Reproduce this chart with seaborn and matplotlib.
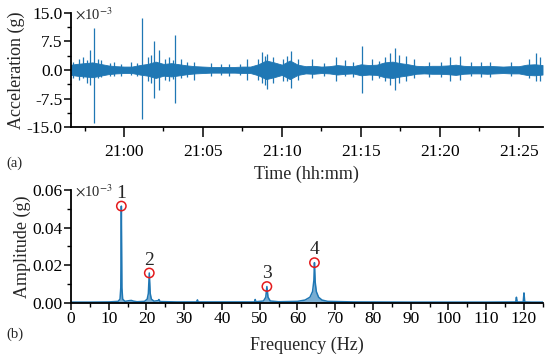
import pandas as pd
import numpy as np
import seaborn as sns
import matplotlib.pyplot as plt
from matplotlib.ticker import MultipleLocator, FormatStrFormatter

sns.set_theme(style="ticks")
plt.rcParams['font.family'] = ['Liberation Serif', 'DejaVu Serif']
plt.rcParams['mathtext.fontset'] = 'stix'

BLUE = "#1f77b4"

# ---------------- (a) acceleration record, values in 1e-3 g ----------------
# background band of the signal (read every 30 s)
env_time = ["20:56:30", "20:57:00", "20:57:30", "20:58:00", "20:58:30", "20:59:00", "20:59:30",
            "21:00:00", "21:00:30", "21:01:00", "21:01:30", "21:02:00", "21:02:30", "21:03:00",
            "21:03:30", "21:04:00", "21:04:30", "21:05:00", "21:05:30", "21:06:00", "21:06:30",
            "21:07:00", "21:07:30", "21:08:00", "21:08:30", "21:09:00", "21:09:30", "21:10:00",
            "21:10:30", "21:11:00", "21:11:30", "21:12:00", "21:12:30", "21:13:00", "21:13:30",
            "21:14:00", "21:14:30", "21:15:00", "21:15:30", "21:16:00", "21:16:30", "21:17:00",
            "21:17:30", "21:18:00", "21:18:30", "21:19:00", "21:19:30", "21:20:00", "21:20:30",
            "21:21:00", "21:21:30", "21:22:00", "21:22:30", "21:23:00", "21:23:30", "21:24:00",
            "21:24:30", "21:25:00", "21:25:30", "21:26:00", "21:26:30"]
env_hi = [1.3, 1.6, 1.8, 2.0, 1.6, 1.2, 1.0, 0.9, 0.9, 1.3, 1.6, 2.2, 1.6, 1.8, 1.5, 1.2,
          1.0, 0.9, 0.8, 0.8, 0.8, 0.8, 0.9, 0.9, 1.5, 2.5, 2.0, 1.4, 2.5, 1.4, 1.0, 1.1,
          0.9, 1.0, 1.3, 1.1, 1.0, 1.5, 1.3, 1.4, 2.0, 2.2, 1.8, 1.5, 1.1, 1.0, 1.1, 1.1,
          1.2, 1.4, 1.1, 1.0, 1.0, 1.1, 1.0, 0.9, 1.0, 1.0, 1.4, 1.5, 1.3]
env_lo = [-1.2, -1.5, -1.7, -1.9, -1.5, -1.1, -0.9, -0.8, -0.8, -1.2, -1.5, -2.1, -1.5, -1.7,
          -1.4, -1.1, -0.9, -0.8, -0.7, -0.7, -0.7, -0.7, -0.8, -0.8, -1.4, -2.4, -1.9, -1.3,
          -2.4, -1.3, -0.9, -1.0, -0.8, -0.9, -1.2, -1.0, -0.9, -1.4, -1.2, -1.3, -1.9, -2.1,
          -1.7, -1.4, -1.0, -0.9, -1.0, -1.0, -1.1, -1.3, -1.0, -0.9, -0.9, -1.0, -0.9, -0.8,
          -0.9, -0.9, -1.3, -1.4, -1.2]

# individual bursts / spikes
spike_time = ["20:56:45", "20:57:10", "20:57:25", "20:57:40", "20:57:52", "20:58:06", "20:58:20",
              "20:58:32", "20:59:05", "20:59:22", "20:59:50", "21:00:26", "21:00:50", "21:01:08",
              "21:01:30", "21:01:42", "21:01:54", "21:02:13", "21:02:35", "21:02:52", "21:03:05",
              "21:03:14", "21:03:35", "21:04:00", "21:04:26", "21:05:30", "21:06:10", "21:06:40",
              "21:07:20", "21:07:48", "21:08:30", "21:08:45", "21:08:55", "21:09:05", "21:09:25",
              "21:10:05", "21:10:18", "21:10:35", "21:11:00", "21:11:54", "21:12:40", "21:13:27",
              "21:14:00", "21:14:30", "21:15:06", "21:15:42", "21:16:10", "21:16:30", "21:16:50",
              "21:17:10", "21:17:25", "21:17:50", "21:18:20", "21:19:20", "21:20:05", "21:20:40",
              "21:21:18", "21:22:00", "21:22:35", "21:23:10", "21:24:30", "21:25:40", "21:26:05",
              "21:26:20"]
spike_hi = [2.2, 3.0, 3.4, 2.5, 5.3, 11.0, 3.0, 2.6, 1.8, 2.0, 1.6, 2.0, 1.8, 13.7, 3.5, 4.0,
            7.6, 5.3, 3.0, 3.4, 2.6, 9.2, 3.0, 2.0, 2.0, 1.8, 1.5, 1.6, 1.5, 3.0, 3.0, 4.8,
            3.6, 4.2, 3.5, 3.0, 3.8, 4.9, 2.8, 3.0, 1.8, 3.4, 2.5, 2.0, 6.3, 3.0, 2.4, 3.5,
            4.5, 5.8, 4.0, 3.6, 2.8, 2.2, 2.0, 3.4, 3.8, 2.0, 2.2, 2.0, 2.0, 3.0, 4.4, 3.5]
spike_lo = [-2.0, -2.6, -2.0, -3.5, -4.0, -14.0, -2.0, -1.8, -1.6, -1.5, -1.5, -1.2, -1.6,
            -12.9, -3.0, -3.4, -7.4, -5.3, -2.5, -2.8, -2.4, -8.7, -2.2, -1.8, -2.6, -1.6,
            -1.4, -1.5, -1.4, -2.6, -2.6, -3.5, -4.0, -5.0, -3.5, -2.8, -3.0, -4.8, -2.5,
            -2.0, -1.6, -3.0, -1.5, -1.8, -6.0, -2.5, -2.2, -3.0, -4.0, -5.3, -3.5, -3.0,
            -2.0, -1.8, -1.8, -3.0, -2.5, -1.5, -1.8, -1.8, -1.5, -2.0, -3.0, -3.0]

time_ticks = ["21:00", "21:05", "21:10", "21:15", "21:20", "21:25"]

# ---------------- (b) amplitude spectrum, values in g ----------------
freq = [0.0, 5.0, 10.0, 12.5, 13.0, 13.2, 13.35, 13.5, 13.7, 14.3, 15.5, 16.0, 16.6, 17.5,
        19.5, 20.2, 20.5, 20.75, 21.0, 21.3, 22.0, 23.1, 23.3, 23.6, 28.0, 33.3, 33.5, 33.7,
        40.0, 48.6, 48.8, 49.0, 51.0, 51.6, 51.9, 52.2, 52.8, 55.0, 60.0, 62.0, 63.3, 64.0,
        64.35, 64.5, 64.7, 65.0, 65.6, 66.5, 68.0, 75.0, 90.0, 110.0, 117.8, 118.0, 118.2,
        119.8, 120.0, 120.2, 122.0, 125.0]
amp = [0.0004, 0.0004, 0.0005, 0.0008, 0.002, 0.008, 0.0515, 0.008, 0.002, 0.0008, 0.0012,
       0.0013, 0.0009, 0.0006, 0.0008, 0.002, 0.005, 0.0159, 0.005, 0.002, 0.0009, 0.0012,
       0.0018, 0.0007, 0.0005, 0.0005, 0.0016, 0.0005, 0.0005, 0.0005, 0.0018, 0.0006, 0.001,
       0.003, 0.0087, 0.003, 0.001, 0.0006, 0.0008, 0.0015, 0.003, 0.006, 0.012, 0.0214,
       0.011, 0.006, 0.003, 0.0015, 0.0008, 0.0005, 0.0004, 0.0004, 0.0005, 0.003, 0.0005,
       0.0005, 0.0053, 0.0005, 0.0004, 0.0004]

peak_freq = [13.35, 20.75, 51.9, 64.5]
peak_amp = [0.0515, 0.0159, 0.0087, 0.0214]
peak_label = ["1", "2", "3", "4"]

# ---------------- convert times to minutes after 21:00 ----------------
t0 = pd.Timedelta("21:00:00")
def to_min(times):
    return [(pd.Timedelta(t) - t0).total_seconds() / 60 for t in times]

env = pd.DataFrame({"t": to_min(env_time), "hi": env_hi, "lo": env_lo})
spk = pd.DataFrame({"t": to_min(spike_time), "hi": spike_hi, "lo": spike_lo})
spec = pd.DataFrame({"f": freq, "a": amp})
pk = pd.DataFrame({"f": peak_freq, "a": peak_amp, "lab": peak_label})

fig = plt.figure(figsize=(5.5, 3.58), dpi=100)
ax1 = fig.add_axes([0.129, 0.645, 0.858, 0.319])
ax2 = fig.add_axes([0.129, 0.154, 0.858, 0.315])

# (a)
ax1.fill_between(env["t"], env["lo"], env["hi"], color=BLUE, lw=0.6)
ax1.vlines(spk["t"], spk["lo"], spk["hi"], color=BLUE, lw=0.9)
ax1.set_xlim(-3.36, 26.52)
ax1.set_ylim(-15, 15)
ax1.yaxis.set_major_locator(MultipleLocator(7.5))
ax1.yaxis.set_minor_locator(MultipleLocator(3.75))
ax1.yaxis.set_major_formatter(FormatStrFormatter("%.1f"))
ax1.set_xticks([5 * i for i in range(len(time_ticks))])
ax1.set_xticklabels(time_ticks)
ax1.xaxis.set_minor_locator(MultipleLocator(2.5))
ax1.set_ylabel("Acceleration (g)", fontsize=13, labelpad=1)
ax1.set_xlabel("Time (hh:mm)", fontsize=13, labelpad=4)
ax1.text(0.008, 0.99, r"$\times$10$^{-3}$", transform=ax1.transAxes, fontsize=10.5,
         ha="left", va="center")
fig.text(0.012, 0.545, "(a)", fontsize=10.5, va="center")
ax1.tick_params(axis="x", which="major", length=7, pad=5)

# (b)
sns.lineplot(data=spec, x="f", y="a", ax=ax2, color=BLUE, lw=1.1)
ax2.fill_between(spec["f"], 0, spec["a"], color=BLUE, alpha=0.6, lw=0)
sns.scatterplot(data=pk, x="f", y="a", ax=ax2, s=45, facecolor="none",
                edgecolor="#e41a1c", linewidth=1.1, zorder=5)
for _, r in pk.iterrows():
    ax2.annotate(r["lab"], (r["f"], r["a"]), xytext=(0, 3), textcoords="offset points",
                 ha="center", va="bottom", fontsize=14)
ax2.set_xlim(0, 125)
ax2.set_ylim(0, 0.06)
ax2.xaxis.set_major_locator(MultipleLocator(10))
ax2.xaxis.set_minor_locator(MultipleLocator(5))
ax2.yaxis.set_major_locator(MultipleLocator(0.02))
ax2.yaxis.set_minor_locator(MultipleLocator(0.01))
ax2.yaxis.set_major_formatter(FormatStrFormatter("%.2f"))
ax2.set_ylabel("Amplitude (g)", fontsize=13, labelpad=1)
ax2.set_xlabel("Frequency (Hz)", fontsize=13, labelpad=7)
ax2.text(0.008, 0.99, r"$\times$10$^{-3}$", transform=ax2.transAxes, fontsize=10.5,
         ha="left", va="center")
fig.text(0.012, 0.065, "(b)", fontsize=10.5, va="center")

for ax in (ax1, ax2):
    sns.despine(ax=ax)
    for s in ("left", "bottom"):
        ax.spines[s].set_linewidth(1.3)
        ax.spines[s].set_color("black")
    ax.tick_params(which="major", width=1.1, direction="out", labelsize=12.5,
                   colors="black")
    ax.tick_params(axis="y", which="major", length=5, pad=1)
    ax.tick_params(which="minor", length=3, width=1.0, direction="out", colors="black")
    ax.grid(False)
ax2.tick_params(axis="x", which="major", length=5, pad=1)

fig.savefig("out.png", dpi=100)
